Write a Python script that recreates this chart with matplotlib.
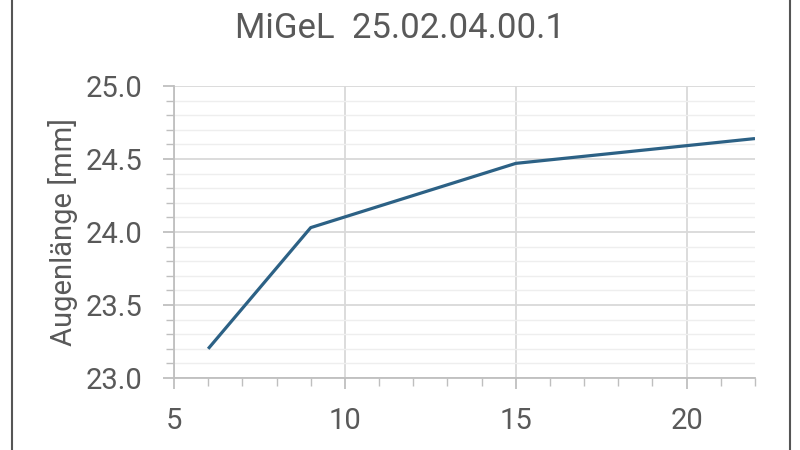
import matplotlib.pyplot as plt
from matplotlib.patches import Rectangle
from matplotlib.ticker import MultipleLocator, FormatStrFormatter

# data
alter = [6, 9, 15, 22]
augenlaenge = [23.2, 24.03, 24.47, 24.64]

title = "MiGeL  25.02.04.00.1"
ylabel = "Augenlänge [mm]"

plt.rcParams['font.family'] = ['Roboto', 'DejaVu Sans']
text_col = "#595959"

fig = plt.figure(figsize=(8, 4.5), dpi=100)
ax = fig.add_axes([174/800, 1 - 378/450, (755 - 174)/800, (378 - 86)/450])

ax.plot(alter, augenlaenge, color="#2c6185", lw=2.3, solid_capstyle='butt', zorder=3)

ax.set_xlim(5, 22)
ax.set_ylim(23.0, 25.0)
ax.xaxis.set_major_locator(MultipleLocator(5))
ax.xaxis.set_minor_locator(MultipleLocator(1))
ax.yaxis.set_major_locator(MultipleLocator(0.5))
ax.yaxis.set_minor_locator(MultipleLocator(0.1))
ax.yaxis.set_major_formatter(FormatStrFormatter('%.1f'))

ax.grid(which='major', color="#d9d9d9", lw=1.3)
ax.grid(which='minor', axis='y', color="#eeeeee", lw=1.0)
ax.set_axisbelow(True)

for s in ['top', 'right']:
    ax.spines[s].set_visible(False)
for s in ['left', 'bottom']:
    ax.spines[s].set_color("#bfbfbf")
    ax.spines[s].set_linewidth(1.3)

ax.tick_params(which='major', length=8, width=1.3, color="#bfbfbf",
               labelsize=21, labelcolor=text_col)
ax.tick_params(which='minor', length=6, width=1.0, color="#bfbfbf")
ax.tick_params(axis='x', which='major', pad=13)
ax.tick_params(axis='y', which='major', pad=15)

ax.set_ylabel(ylabel, fontsize=21, color=text_col, labelpad=5)
fig.text(0.5, 0.937, title, ha='center', va='center', fontsize=25, color=text_col)

# chart frame (cropped screenshot)
fig.patches.append(Rectangle((12/800, -0.1), (790 - 12)/800, 1.2, transform=fig.transFigure,
                             fill=False, edgecolor="#555555", lw=1.5))

fig.savefig("out.png", dpi=100)
